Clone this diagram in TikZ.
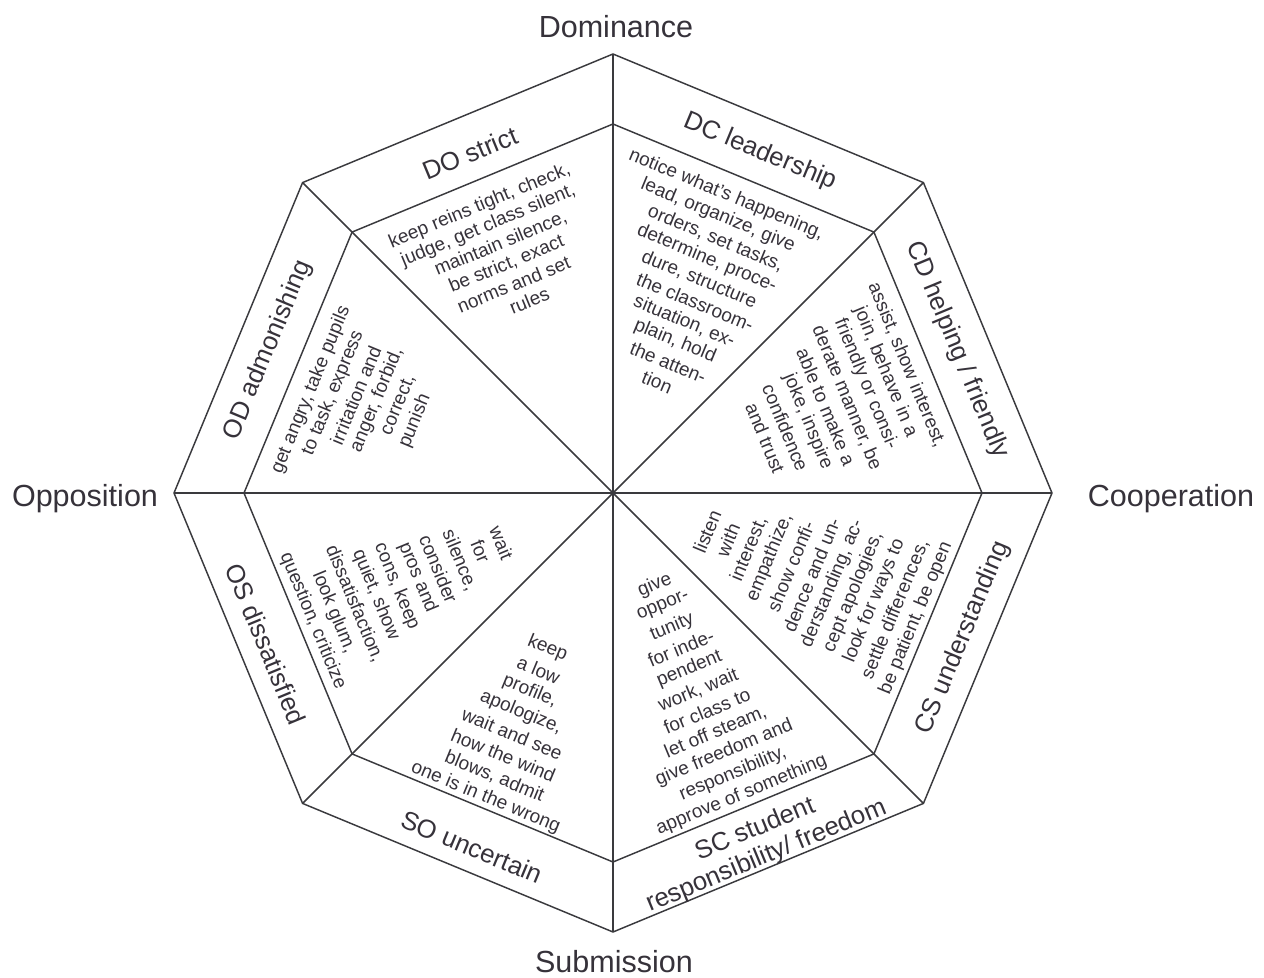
\documentclass[tikz,border=0pt]{standalone}
\usepackage{fontspec}
\setmainfont{Liberation Sans}
\usetikzlibrary{calc}
\definecolor{ink}{HTML}{3A3A3E}
\definecolor{txt}{HTML}{36323A}
\begin{document}
\begin{tikzpicture}[x=0.75pt,y=-0.75pt,
  frame/.style={draw=ink,line width=1.1pt,line join=miter},
  axislabel/.style={font=\fontsize{22.9}{27}\selectfont,text=txt,inner sep=0pt,anchor=base},
  ringlabel/.style={font=\fontsize{19.3}{21.75}\selectfont,text=txt,inner sep=0pt,align=center},
  blk/.style={font=\fontsize{14.25}{16.5}\selectfont,text=txt,inner sep=0pt}]
\useasboundingbox (0,0) rectangle (1264,978);

% octagon geometry
\coordinate (C) at (613,493);
\foreach \k in {0,...,7}{
  \coordinate (o\k) at ($(C)+(\k*45:439)$);
  \coordinate (i\k) at ($(C)+(\k*45:369)$);
}
\draw[frame] (o0)--(o1)--(o2)--(o3)--(o4)--(o5)--(o6)--(o7)--cycle;
\draw[frame] (i0)--(i1)--(i2)--(i3)--(i4)--(i5)--(i6)--(i7)--cycle;
\foreach \k in {0,...,7}{ \draw[frame] (C)--(o\k); }

% axis labels
\node[axislabel] (dom) at (616,37) {Dominance};
\node[axislabel] (sub) at (614,972) {Submission};
\node[axislabel] (opp) at (85,506) {Opposition};
\node[axislabel] (coop) at (1171,506) {Cooperation};

% ring labels
\node[ringlabel,rotate=22.5]  (lDO) at (470,153) {DO strict};
\node[ringlabel,rotate=-22.5] (lDC) at (760,152) {DC leadership};
\node[ringlabel,rotate=-67.5] (lCD) at (957,350) {CD helping / friendly};
\node[ringlabel,rotate=67.5]  (lCS) at (963,638) {CS understanding};
\node[ringlabel,rotate=22.5]  (lSC) at (761,843) {SC student\\responsibility/ freedom};
\node[ringlabel,rotate=-22.5] (lSO) at (472,847) {SO uncertain};
\node[ringlabel,rotate=-67.5] (lOS) at (266,644) {OS dissatisfied};
\node[ringlabel,rotate=67.5]  (lOD) at (268,350) {OD admonishing};

% sector texts: each block is laid out in its own rotated frame,
% first value = position along the line, lines evenly spaced
\begin{scope}[rotate=22.5]
\foreach \a/\t [count=\i] in {
  364.3/{keep reins tight, check,},
  364.8/{judge, get class silent,},
  369.5/{maintain silence,},
  367.0/{be strict, exact},
  365.8/{norms and set},
  373.9/{rules}}
  \node[blk,rotate=22.5] (do\i) at (\a,{374.3+(\i-1)*21.2}) {\t};
\end{scope}

\begin{scope}[rotate=-22.5]
\foreach \a/\t [count=\i] in {
  745.5/{notice what's happening,},
  745.7/{lead, organize, give},
  752.5/{orders, set tasks,},
  752.1/{determine, proce-},
  753.0/{dure, structure},
  757.9/{the classroom-},
  755.3/{situation, ex-},
  754.2/{plain, hold},
  756.2/{the atten-},
  753.4/{tion}}
  \node[blk,rotate=-22.5] (dc\i) at (\a,{-97.9+(\i-1)*22.14}) {\t};
\end{scope}

\begin{scope}[rotate=-67.5]
\foreach \a/\t [count=\i] in {
  684.3/{assist, show interest,},
  682.5/{join, behave in a},
  686.1/{friendly or consi-},
  691.8/{derate manner, be},
  691.9/{able to make a},
  698.9/{joke, inspire},
  695.7/{confidence},
  697.5/{and trust}}
  \node[blk,rotate=-67.5] (cd\i) at (\a,{-698.3+(\i-1)*22.7}) {\t};
\end{scope}

\begin{scope}[rotate=67.5]
\foreach \t [count=\i] in {
  {listen},
  {with},
  {interest,},
  {empathize,},
  {show confi-},
  {dence and un-},
  {derstanding, ac-},
  {cept apologies,},
  {look for ways to},
  {settle differences,},
  {be patient, be open}}
  \node[blk,rotate=67.5] (cs\i) at (-220.5,{856.7+(\i-1)*22.62}) {\t};
\end{scope}

\begin{scope}[rotate=22.5]
\foreach \t [count=\i] in {
  {give},
  {oppor-},
  {tunity},
  {for inde-},
  {pendent},
  {work, wait},
  {for class to},
  {let off steam,},
  {give freedom and},
  {responsibility,},
  {approve of something}}
  \node[blk,rotate=22.5] (sc\i) at (381,{791.3+(\i-1)*22.7}) {\t};
\end{scope}

\begin{scope}[rotate=-22.5]
\foreach \t [count=\i] in {
  {keep},
  {a low},
  {profile,},
  {apologize,},
  {wait and see},
  {how the wind},
  {blows, admit},
  {one is in the wrong}}
  \node[blk,rotate=-22.5] (so\i) at (754,{389.6+(\i-1)*23.07}) {\t};
\end{scope}

\begin{scope}[rotate=-67.5]
\foreach \t [count=\i] in {
  {wait},
  {for},
  {silence,},
  {consider},
  {pros and},
  {cons, keep},
  {quiet, show},
  {dissatisfaction,},
  {look glum,},
  {question, criticize}}
  \node[blk,rotate=-67.5] (os\i) at (693.5,{-255.6+(\i-1)*22.7}) {\t};
\end{scope}

\begin{scope}[rotate=67.5]
\foreach \a/\t [count=\i] in {
  -241.3/{get angry, take pupils},
  -235.7/{to task, express},
  -229.0/{irritation and},
  -225.3/{anger, forbid,},
  -221.9/{correct,},
  -230.2/{punish}}
  \node[blk,rotate=67.5] (od\i) at (\a,{436.6+(\i-1)*21.6}) {\t};
\end{scope}
\end{tikzpicture}
\end{document}
